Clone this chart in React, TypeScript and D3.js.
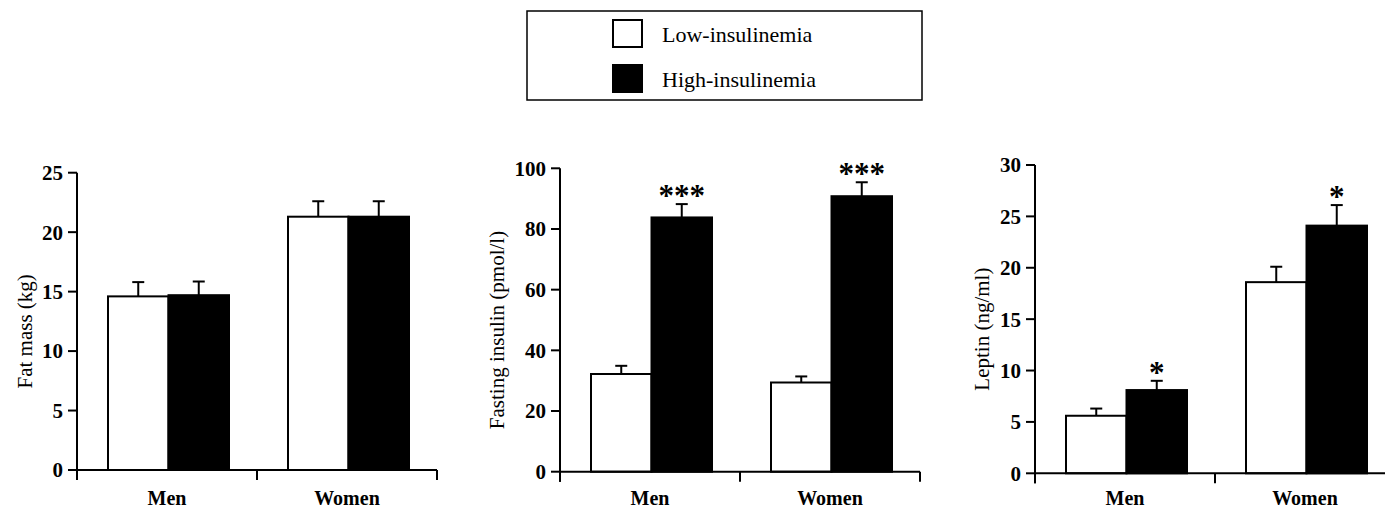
import * as d3 from 'd3';

const WIDTH = 1385;
const HEIGHT = 511;
const FONT = '"Liberation Serif", "Times New Roman", serif';

// Dados
const categories = ['Men', 'Women'];
const groups = ['Low-insulinemia', 'High-insulinemia'];

const fatMassLow = [14.6, 21.3];
const fatMassLowSem = [1.2, 1.3];
const fatMassHigh = [14.7, 21.3];
const fatMassHighSem = [1.15, 1.3];
const fatMassTicks = [0, 5, 10, 15, 20, 25];

const insulinLow = [32.2, 29.4];
const insulinLowSem = [2.7, 2.0];
const insulinHigh = [83.8, 90.8];
const insulinHighSem = [4.4, 4.6];
const insulinHighSig = ['***', '***'];
const insulinTicks = [0, 20, 40, 60, 80, 100];

const leptinLow = [5.6, 18.6];
const leptinLowSem = [0.7, 1.5];
const leptinHigh = [8.1, 24.1];
const leptinHighSem = [0.9, 2.0];
const leptinHighSig = ['*', '*'];
const leptinTicks = [0, 5, 10, 15, 20, 25, 30];

type Panel = {
  title: string;
  low: number[];
  lowSem: number[];
  high: number[];
  highSem: number[];
  sig: string[];
  ticks: number[];
  axisX: number;
  y0: number;
  yTop: number;
  labelX: number;
};

const panels: Panel[] = [
  {
    title: 'Fat mass (kg)', low: fatMassLow, lowSem: fatMassLowSem, high: fatMassHigh, highSem: fatMassHighSem,
    sig: ['', ''], ticks: fatMassTicks, axisX: 77, y0: 470, yTop: 172.7, labelX: 32,
  },
  {
    title: 'Fasting insulin (pmol/l)', low: insulinLow, lowSem: insulinLowSem, high: insulinHigh, highSem: insulinHighSem,
    sig: insulinHighSig, ticks: insulinTicks, axisX: 560, y0: 471.7, yTop: 168.3, labelX: 504,
  },
  {
    title: 'Leptin (ng/ml)', low: leptinLow, lowSem: leptinLowSem, high: leptinHigh, highSem: leptinHighSem,
    sig: leptinHighSig, ticks: leptinTicks, axisX: 1035, y0: 473.3, yTop: 165, labelX: 989,
  },
];

const BAND = 180;

const BarPanel = ({ p }: { p: Panel }) => {
  const x0 = d3.scaleBand().domain(categories).range([p.axisX, p.axisX + BAND * 2]);
  const x1 = d3.scaleBand().domain(groups).range([31, 152]);
  const yMax = p.ticks[p.ticks.length - 1];
  const y = d3.scaleLinear().domain([0, yMax]).range([p.y0, p.yTop]);

  const series = [
    { key: groups[0], values: p.low, sem: p.lowSem, fill: '#fff', sig: ['', ''] },
    { key: groups[1], values: p.high, sem: p.highSem, fill: '#000', sig: p.sig },
  ];

  return (
    <g>
      {/* barras */}
      {series.map((s) =>
        categories.map((c, i) => {
          const bx = x0(c)! + x1(s.key)!;
          const bw = x1.bandwidth();
          const cx = bx + bw / 2;
          const top = y(s.values[i]);
          const errTop = y(s.values[i] + s.sem[i]);
          return (
            <g key={s.key + c}>
              <rect x={bx} y={top} width={bw} height={p.y0 - top} fill={s.fill} stroke="#000" strokeWidth={2} />
              <line x1={cx} x2={cx} y1={top} y2={errTop} stroke="#000" strokeWidth={2} />
              <line x1={cx - 6} x2={cx + 6} y1={errTop} y2={errTop} stroke="#000" strokeWidth={2} />
              {s.sig[i] && (
                <text x={cx} y={errTop + 2} textAnchor="middle" fontSize={31} fontWeight="bold" fontFamily={FONT}>
                  {s.sig[i]}
                </text>
              )}
            </g>
          );
        })
      )}

      {/* eixo Y */}
      <line x1={p.axisX} x2={p.axisX} y1={y(yMax)} y2={p.y0 + 10} stroke="#000" strokeWidth={2} />
      {p.ticks.map((t) => (
        <g key={t}>
          <line x1={p.axisX - 9} x2={p.axisX} y1={y(t)} y2={y(t)} stroke="#000" strokeWidth={2} />
          <text x={p.axisX - 14} y={y(t)} dy="0.35em" textAnchor="end" fontSize={21} fontWeight="bold" fontFamily={FONT}>
            {t}
          </text>
        </g>
      ))}

      {/* eixo X */}
      <line x1={p.axisX} x2={p.axisX + BAND * 2} y1={p.y0} y2={p.y0} stroke="#000" strokeWidth={2} />
      {[0, 1, 2].map((k) => (
        <line key={k} x1={p.axisX + k * BAND} x2={p.axisX + k * BAND} y1={p.y0} y2={p.y0 + 10} stroke="#000" strokeWidth={2} />
      ))}
      {categories.map((c) => (
        <text key={c} x={x0(c)! + x0.bandwidth() / 2} y={Math.min(p.y0 + 36, 505)} textAnchor="middle" fontSize={20} fontWeight="bold" fontFamily={FONT}>
          {c}
        </text>
      ))}

      {/* rótulo do eixo Y */}
      <text
        transform={`translate(${p.labelX}, ${(p.y0 + y(yMax)) / 2 + 10}) rotate(-90)`}
        textAnchor="middle"
        fontSize={21}
        fontFamily={FONT}
      >
        {p.title}
      </text>
    </g>
  );
};

export default function App() {
  return (
    <div style={{ position: 'absolute', left: 0, top: 0, background: '#fff' }}>
      <svg width={WIDTH} height={HEIGHT} style={{ display: 'block' }}>
        <rect width={WIDTH} height={HEIGHT} fill="#fff" />

        {/* legenda */}
        <rect x={527} y={11} width={395} height={89} fill="none" stroke="#000" strokeWidth={1.5} />
        {groups.map((g, i) => (
          <g key={g}>
            <rect x={613} y={20 + i * 45} width={29} height={27} fill={i === 0 ? '#fff' : '#000'} stroke="#000" strokeWidth={2} />
            <text x={662} y={42 + i * 45} fontSize={22} fontFamily={FONT}>
              {g}
            </text>
          </g>
        ))}

        {panels.map((p) => (
          <BarPanel key={p.title} p={p} />
        ))}
      </svg>
    </div>
  );
}
